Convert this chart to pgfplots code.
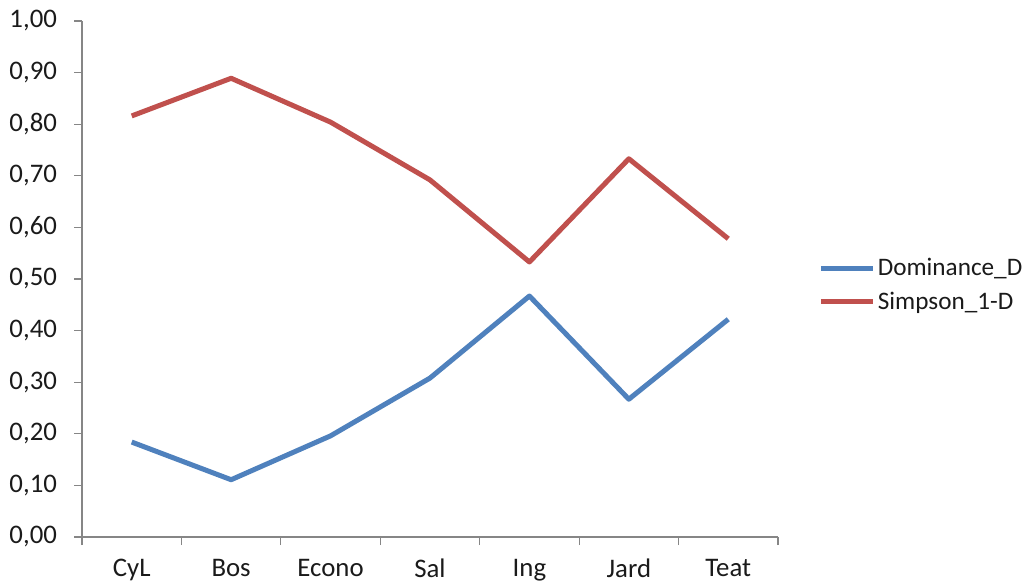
\documentclass[border=0pt]{standalone}
\usepackage{pgfplots}
\pgfplotsset{compat=1.18}
\usepackage{fontspec}
\setmainfont{Carlito}
\definecolor{dblue}{HTML}{4F81BD}
\definecolor{sred}{HTML}{C0504D}
\definecolor{axgray}{HTML}{868686}
\definecolor{txt}{HTML}{1A1A1A}
\begin{document}
\begin{tikzpicture}
\useasboundingbox (0,0) rectangle (516pt,291.5pt);
\begin{axis}[
  at={(41pt,23pt)}, anchor=south west,
  scale only axis, width=348pt, height=258pt,
  xmin=-0.5, xmax=6.5, ymin=0, ymax=1,
  axis x line*=bottom, axis y line*=left,
  axis line style={axgray, line width=0.6pt},
  xtick={0,...,6},
  xticklabels={CyL,Bos,Econo,Sal,Ing,Jard,Teat},
  major x tick style={draw=none},
  minor xtick={-0.5,0.5,...,6.5},
  minor x tick style={axgray, line width=0.6pt},
  ytick={0,0.1,...,1.0},
  y tick style={axgray, line width=0.6pt},
  tick align=outside,
  major tick length=4pt, minor tick length=4pt,
  ticklabel style={font=\fontsize{13.4}{15}\selectfont, text=txt},
  xticklabel style={yshift=-3.5pt},
  yticklabel style={xshift=-5pt, /pgf/number format/.cd, fixed, fixed zerofill, precision=2, use comma, assume math mode=true},
  legend style={draw=none, fill=none, at={(1.0575,0.488)}, anchor=west,
    font=\fontsize{12.6}{14}\selectfont, text=txt, inner sep=0pt,
    row sep=2.5pt, legend cell align=left,
    /tikz/every even column/.append style={column sep=0pt},
    nodes={inner xsep=1.2pt}},
  legend image code/.code={\draw[#1, line width=2.5pt] (0pt,0pt) -- (26pt,0pt);},
  every axis plot/.append style={line width=2.5pt, line join=round},
]
\addplot[dblue, mark=none] coordinates {(0,0.184) (1,0.111) (2,0.196) (3,0.308) (4,0.467) (5,0.267) (6,0.422)};
\addlegendentry{Dominance\_D}
\addplot[sred, mark=none] coordinates {(0,0.816) (1,0.889) (2,0.804) (3,0.692) (4,0.533) (5,0.733) (6,0.578)};
\addlegendentry{Simpson\_1-D}
\end{axis}
\end{tikzpicture}
\end{document}
